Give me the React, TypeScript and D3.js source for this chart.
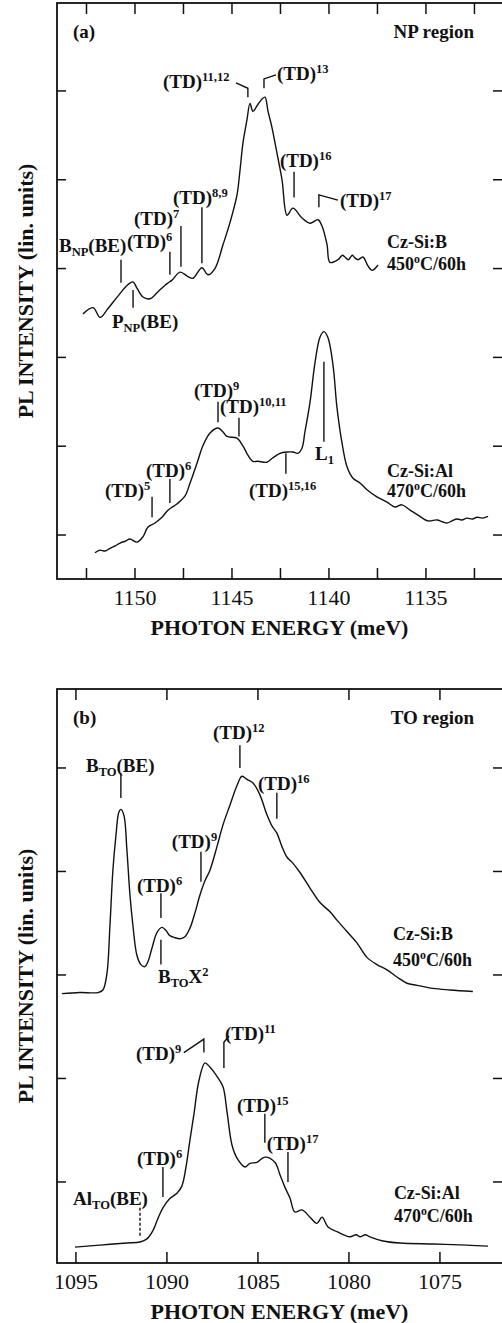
import * as d3 from "d3";

type Pt = [number, number];
type Seg = { t: string; k?: "sup" | "sub" };
type Mark = { label: Seg[]; at: Pt; path: Pt[]; dashed?: boolean };

// NP region, Cz-Si:B 450°C/60h  [photon energy meV, PL intensity]
const npBoron: Pt[] = [
  [1152.68, 3.49], [1152.16, 3.56], [1151.8, 3.45], [1151.39, 3.55], [1150.88, 3.69], [1150.36, 3.82],
  [1150.1, 3.85], [1149.9, 3.78], [1149.59, 3.68], [1149.23, 3.66], [1148.81, 3.74], [1148.35, 3.83],
  [1148.09, 3.87], [1147.68, 3.96], [1147.27, 3.91], [1147.01, 3.89], [1146.55, 4.01], [1146.24, 3.93],
  [1145.88, 4.0], [1145.46, 4.27], [1145.1, 4.52], [1144.74, 4.83], [1144.59, 5.1], [1144.43, 5.42],
  [1144.23, 5.67], [1144.07, 5.86], [1143.92, 5.77], [1143.66, 5.85], [1143.45, 5.91], [1143.3, 5.93],
  [1143.14, 5.77], [1142.94, 5.59], [1142.68, 5.3], [1142.42, 5.0], [1142.16, 4.6], [1141.86, 4.68],
  [1141.39, 4.57], [1140.98, 4.51], [1140.57, 4.55], [1140.36, 4.48], [1140.1, 4.27], [1139.95, 4.07],
  [1139.54, 4.1], [1139.3, 4.15], [1139.18, 4.13], [1139.0, 4.1], [1138.8, 4.15], [1138.66, 4.12],
  [1138.5, 4.1], [1138.25, 4.13], [1137.99, 4.03], [1137.78, 3.98], [1137.47, 4.04],
];

// NP region, Cz-Si:Al 470°C/60h
const npAluminium: Pt[] = [
  [1152.06, 0.8], [1151.8, 0.83], [1151.55, 0.82], [1151.29, 0.85], [1151.0, 0.88], [1150.77, 0.91],
  [1150.5, 0.93], [1150.26, 0.955], [1149.9, 0.92], [1149.59, 0.98], [1149.33, 1.09], [1148.97, 1.135],
  [1148.61, 1.2], [1148.3, 1.28], [1147.84, 1.35], [1147.42, 1.44], [1147.16, 1.585], [1146.8, 1.81],
  [1146.49, 2.01], [1146.13, 2.15], [1145.72, 2.205], [1145.46, 2.16], [1145.26, 2.11], [1144.74, 2.09],
  [1144.43, 2.0], [1144.18, 1.9], [1143.92, 1.83], [1143.66, 1.83], [1143.2, 1.82], [1142.89, 1.87],
  [1142.53, 1.92], [1142.16, 1.935], [1141.86, 1.935], [1141.6, 1.92], [1141.39, 1.98], [1141.24, 2.16],
  [1140.98, 2.49], [1140.72, 2.94], [1140.46, 3.23], [1140.26, 3.29], [1140.05, 3.22], [1139.79, 2.91],
  [1139.59, 2.44], [1139.33, 2.04], [1139.07, 1.77], [1138.76, 1.64], [1138.4, 1.585], [1138.04, 1.51],
  [1137.53, 1.43], [1137.01, 1.37], [1136.6, 1.315], [1136.24, 1.34], [1135.82, 1.28], [1135.41, 1.225],
  [1134.9, 1.16], [1134.43, 1.17], [1134.15, 1.15], [1133.92, 1.135], [1133.65, 1.16], [1133.4, 1.18],
  [1133.15, 1.17], [1132.89, 1.19], [1132.6, 1.18], [1132.37, 1.2], [1132.1, 1.19], [1131.8, 1.21],
];

// TO region, Cz-Si:B 450°C/60h
const toBoron: Pt[] = [
  [1095.77, 2.82], [1094.78, 2.83], [1093.79, 2.83], [1093.52, 2.855], [1093.3, 3.01], [1093.13, 3.48],
  [1092.97, 4.01], [1092.8, 4.35], [1092.64, 4.575], [1092.53, 4.6], [1092.36, 4.54], [1092.2, 4.21],
  [1092.03, 3.77], [1091.87, 3.48], [1091.65, 3.19], [1091.43, 3.1], [1091.21, 3.08], [1091.04, 3.13],
  [1090.82, 3.26], [1090.55, 3.41], [1090.27, 3.46], [1090.05, 3.43], [1089.84, 3.38], [1089.56, 3.36],
  [1089.29, 3.35], [1089.01, 3.37], [1088.74, 3.45], [1088.46, 3.6], [1088.19, 3.77], [1087.91, 3.91],
  [1087.64, 4.01], [1087.25, 4.24], [1086.92, 4.45], [1086.54, 4.64], [1086.15, 4.83], [1085.88, 4.92],
  [1085.6, 4.89], [1085.27, 4.855], [1084.89, 4.74], [1084.51, 4.55], [1084.23, 4.44], [1083.96, 4.37],
  [1083.68, 4.24], [1083.41, 4.14], [1083.13, 4.09], [1082.69, 3.99], [1082.14, 3.84], [1081.59, 3.7],
  [1081.04, 3.61], [1080.66, 3.53], [1080.11, 3.42], [1079.56, 3.31], [1079.01, 3.17], [1078.46, 3.1],
  [1077.91, 3.05], [1077.36, 2.98], [1076.81, 2.92], [1076.26, 2.9], [1075.38, 2.87], [1074.45, 2.855],
  [1073.19, 2.84],
];

// TO region, Cz-Si:Al 470°C/60h
const toAluminium: Pt[] = [
  [1095.05, 0.37], [1093.68, 0.39], [1092.2, 0.41], [1091.48, 0.42], [1091.1, 0.45], [1090.77, 0.53],
  [1090.49, 0.65], [1090.22, 0.75], [1089.84, 0.84], [1089.45, 0.89], [1089.18, 0.96], [1088.96, 1.135],
  [1088.74, 1.4], [1088.52, 1.65], [1088.24, 1.98], [1087.91, 2.15], [1087.64, 2.11], [1087.25, 2.02],
  [1086.92, 1.92], [1086.7, 1.68], [1086.43, 1.36], [1086.15, 1.23], [1085.71, 1.145], [1085.44, 1.18],
  [1085.05, 1.19], [1084.62, 1.24], [1084.07, 1.19], [1083.79, 1.07], [1083.52, 0.95], [1083.24, 0.845],
  [1082.97, 0.71], [1082.58, 0.73], [1082.14, 0.66], [1081.76, 0.6], [1081.48, 0.66], [1081.15, 0.565],
  [1080.66, 0.52], [1079.95, 0.47], [1079.6, 0.49], [1079.4, 0.47], [1079.1, 0.49], [1078.85, 0.47],
  [1078.13, 0.43], [1077.2, 0.41], [1075.38, 0.4], [1073.52, 0.39], [1072.36, 0.38],
];

const npLabelTicks = [1150, 1145, 1140, 1135];
const npMinorTicks = [1152.5, 1147.5, 1142.5, 1137.5, 1132.5];
const npIntensityTicks = [1, 2, 3, 4, 5, 6];
const toLabelTicks = [1095, 1090, 1085, 1080, 1075];
const toIntensityTicks = [1, 2, 3, 4, 5];

const TD = (n: string): Seg[] => [{ t: "(TD)" }, { t: n, k: "sup" }];

const npBoronMarks: Mark[] = [
  { label: TD("11,12"), at: [1148.56, 6.03], path: [[1144.79, 6.09], [1144.18, 6.03], [1144.18, 5.93]] },
  { label: TD("13"), at: [1142.68, 6.12], path: [[1143.35, 6.03], [1143.35, 6.135], [1142.73, 6.18]] },
  { label: TD("16"), at: [1142.53, 5.14], path: [[1141.8, 5.09], [1141.8, 4.8]] },
  { label: TD("17"), at: [1139.43, 4.69], path: [[1140.52, 4.69], [1140.52, 4.83], [1139.54, 4.77]] },
  { label: TD("8,9"), at: [1148.04, 4.73], path: [[1146.55, 4.69], [1146.55, 4.06]] },
  { label: TD("7"), at: [1150.05, 4.49], path: [[1147.63, 4.48], [1147.63, 4.02]] },
  { label: TD("6"), at: [1150.41, 4.23], path: [[1148.2, 4.19], [1148.2, 3.93]] },
  { label: [{ t: "B" }, { t: "NP", k: "sub" }, { t: "(BE)" }], at: [1153.92, 4.19], path: [[1150.72, 4.1], [1150.72, 3.84]] },
  { label: [{ t: "P" }, { t: "NP", k: "sub" }, { t: "(BE)" }], at: [1151.19, 3.33], path: [[1150.1, 3.76], [1150.1, 3.56]] },
];

const npAluminiumMarks: Mark[] = [
  { label: TD("9"), at: [1146.96, 2.55], path: [[1145.72, 2.5], [1145.72, 2.27]] },
  { label: TD("10,11"), at: [1145.62, 2.37], path: [[1144.64, 2.32], [1144.64, 2.11]] },
  { label: TD("5"), at: [1151.55, 1.43], path: [[1149.12, 1.43], [1149.12, 1.2]] },
  { label: TD("6"), at: [1149.43, 1.65], path: [[1148.2, 1.63], [1148.2, 1.36]] },
  { label: TD("15,16"), at: [1144.12, 1.43], path: [[1142.22, 1.92], [1142.22, 1.69]] },
  { label: [{ t: "L" }, { t: "1", k: "sub" }], at: [1140.72, 1.84], path: [[1140.26, 2.95], [1140.26, 2.05]] },
];

const toBoronMarks: Mark[] = [
  { label: TD("12"), at: [1087.47, 5.28], path: [[1085.99, 5.22], [1085.99, 5.0]] },
  { label: [{ t: "B" }, { t: "TO", k: "sub" }, { t: "(BE)" }], at: [1094.45, 4.96], path: [[1092.53, 4.95], [1092.53, 4.71]] },
  { label: TD("16"), at: [1085.0, 4.79], path: [[1083.96, 4.76], [1083.96, 4.51]] },
  { label: TD("9"), at: [1089.73, 4.23], path: [[1088.13, 4.19], [1088.13, 3.9]] },
  { label: TD("6"), at: [1091.65, 3.8], path: [[1090.33, 3.79], [1090.33, 3.55]] },
  { label: [{ t: "B" }, { t: "TO", k: "sub" }, { t: "X" }, { t: "2", k: "sup" }], at: [1090.49, 2.92], path: [[1090.33, 3.34], [1090.33, 3.1]] },
];

const toAluminiumMarks: Mark[] = [
  { label: TD("9"), at: [1091.7, 2.18], path: [[1089.07, 2.25], [1087.97, 2.38], [1087.97, 2.25]] },
  { label: TD("11"), at: [1086.81, 2.37], path: [[1086.87, 2.1], [1086.87, 2.35], [1086.59, 2.41]] },
  { label: TD("15"), at: [1086.15, 1.68], path: [[1084.62, 1.66], [1084.62, 1.38]] },
  { label: TD("17"), at: [1084.51, 1.31], path: [[1083.35, 1.29], [1083.35, 1.0]] },
  { label: TD("6"), at: [1091.65, 1.16], path: [[1090.22, 1.145], [1090.22, 0.855]] },
  { label: [{ t: "Al" }, { t: "TO", k: "sub" }, { t: "(BE)" }], at: [1095.16, 0.78], path: [[1091.48, 0.75], [1091.48, 0.46]], dashed: true },
];

const sampleB = [{ t: "Cz-Si:B" }];
const annealB: Seg[] = [{ t: "450" }, { t: "o", k: "sup" }, { t: "C/60h" }];
const sampleAl = [{ t: "Cz-Si:Al" }];
const annealAl: Seg[] = [{ t: "470" }, { t: "o", k: "sup" }, { t: "C/60h" }];

const W = 502;
const H = 1323;
const LEFT = 57;
const RIGHT = 502;
const FONT = "'Liberation Serif', 'Times New Roman', serif";
const INK = "#111";

function Label({ segs, x, y, size = 19 }: { segs: Seg[]; x: number; y: number; size?: number }) {
  let shift = 0;
  return (
    <text x={x} y={y} fontSize={size} fontFamily={FONT} fontWeight="bold" fill={INK}>
      {segs.map((s, i) => {
        const target = s.k === "sup" ? -7 : s.k === "sub" ? 4 : 0;
        const dy = target - shift;
        shift = target;
        return (
          <tspan key={i} dy={dy} fontSize={s.k ? size * 0.66 : size}>
            {s.t}
          </tspan>
        );
      })}
    </text>
  );
}

type PanelProps = {
  top: number;
  bottom: number;
  xDomain: [number, number];
  yDomain: [number, number];
  labelTicks: number[];
  minorTicks: number[];
  yTicks: number[];
  series: Pt[][];
  marks: Mark[];
  samples: { at: Pt; first: Seg[]; second: Seg[]; gap: number }[];
  tag: string;
  region: string;
};

function Panel(p: PanelProps) {
  const x = d3.scaleLinear().domain(p.xDomain).range([LEFT, RIGHT]);
  const y = d3.scaleLinear().domain(p.yDomain).range([p.bottom, p.top]);
  const line = d3
    .line<Pt>()
    .x((d) => x(d[0]))
    .y((d) => y(d[1]))
    .curve(d3.curveCatmullRom.alpha(0.5));
  const path = d3
    .line<Pt>()
    .x((d) => x(d[0]))
    .y((d) => y(d[1]));
  const allX = [...p.labelTicks, ...p.minorTicks];

  return (
    <g>
      <rect x={LEFT} y={p.top} width={RIGHT - LEFT + 1} height={p.bottom - p.top} fill="none" stroke={INK} strokeWidth={1.8} />
      {allX.map((t) => (
        <g key={t}>
          <line x1={x(t)} x2={x(t)} y1={p.bottom} y2={p.bottom - 11} stroke={INK} strokeWidth={1.5} />
          <line x1={x(t)} x2={x(t)} y1={p.top} y2={p.top + 11} stroke={INK} strokeWidth={1.5} />
        </g>
      ))}
      {p.yTicks.map((t) => (
        <g key={t}>
          <line x1={LEFT} x2={LEFT + 9} y1={y(t)} y2={y(t)} stroke={INK} strokeWidth={1.5} />
          <line x1={RIGHT} x2={RIGHT - 9} y1={y(t)} y2={y(t)} stroke={INK} strokeWidth={1.5} />
        </g>
      ))}
      {p.labelTicks.map((t) => (
        <text key={t} x={x(t)} y={p.bottom + 26} textAnchor="middle" fontSize={22} fontFamily={FONT} fill={INK}>
          {t}
        </text>
      ))}
      <text x={(LEFT + RIGHT) / 2} y={p.bottom + 56} textAnchor="middle" fontSize={22} fontFamily={FONT} fontWeight="bold" fill={INK}>
        PHOTON ENERGY (meV)
      </text>
      <text
        transform={`translate(33,${(p.top + p.bottom) / 2}) rotate(-90)`}
        textAnchor="middle"
        fontSize={22}
        fontFamily={FONT}
        fontWeight="bold"
        fill={INK}
      >
        PL INTENSITY (lin. units)
      </text>
      <text x={73} y={p.top + 35} fontSize={19} fontFamily={FONT} fontWeight="bold" fill={INK}>
        {p.tag}
      </text>
      <text x={RIGHT - 28} y={p.top + 35} textAnchor="end" fontSize={19} fontFamily={FONT} fontWeight="bold" fill={INK}>
        {p.region}
      </text>
      {p.series.map((s, i) => (
        <path key={i} d={line(s) ?? ""} fill="none" stroke={INK} strokeWidth={1.4} strokeLinejoin="round" />
      ))}
      {p.marks.map((m, i) => (
        <g key={i}>
          <path d={path(m.path) ?? ""} fill="none" stroke={INK} strokeWidth={1.4} strokeDasharray={m.dashed ? "3,2" : undefined} />
          <Label segs={m.label} x={x(m.at[0])} y={y(m.at[1])} />
        </g>
      ))}
      {p.samples.map((s, i) => (
        <g key={i}>
          <Label segs={s.first} x={x(s.at[0])} y={y(s.at[1])} size={18} />
          <Label segs={s.second} x={x(s.at[0])} y={y(s.at[1]) + s.gap} size={18} />
        </g>
      ))}
    </g>
  );
}

export default function App() {
  return (
    <svg width={W} height={H} style={{ position: "absolute", left: 0, top: 0, background: "#fff" }}>
      <rect width={W} height={H} fill="#fff" />
      <Panel
        top={3}
        bottom={579}
        xDomain={[1154.02, 1131.08]}
        yDomain={[0.505, 6.99]}
        labelTicks={npLabelTicks}
        minorTicks={npMinorTicks}
        yTicks={npIntensityTicks}
        series={[npBoron, npAluminium]}
        marks={[...npBoronMarks, ...npAluminiumMarks]}
        samples={[
          { at: [1137.01, 4.23], first: sampleB, second: annealB, gap: 22 },
          { at: [1137.01, 1.65], first: sampleAl, second: annealAl, gap: 20 },
        ]}
        tag="(a)"
        region="NP region"
      />
      <Panel
        top={689}
        bottom={1263}
        xDomain={[1096.04, 1071.59]}
        yDomain={[0.217, 5.763]}
        labelTicks={toLabelTicks}
        minorTicks={[]}
        yTicks={toIntensityTicks}
        series={[toBoron, toAluminium]}
        marks={[...toBoronMarks, ...toAluminiumMarks]}
        samples={[
          { at: [1077.58, 3.34], first: sampleB, second: annealB, gap: 26 },
          { at: [1077.53, 0.84], first: sampleAl, second: annealAl, gap: 23 },
        ]}
        tag="(b)"
        region="TO region"
      />
    </svg>
  );
}
